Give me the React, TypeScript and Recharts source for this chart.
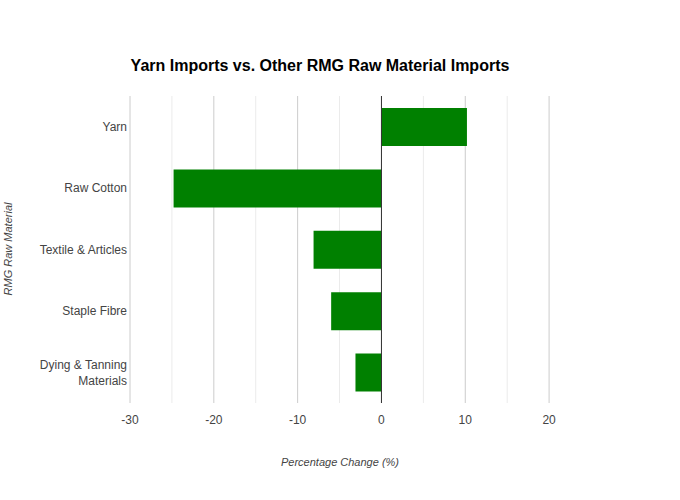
import React from "react";
import { BarChart, Bar, XAxis, YAxis, CartesianGrid, ReferenceLine } from "recharts";

const categories = ["Yarn", "Raw Cotton", "Textile & Articles", "Staple Fibre", "Dying & Tanning Materials"];
const changes = [10.2, -24.8, -8.1, -6.0, -3.1];
const majorTicks = [-30, -20, -10, 0, 10, 20];
const minorTicks = [-25, -15, -5, 5, 15];
const xDomain = [-30, 25];

const data = categories.map((c, i) => ({ name: c, value: changes[i] }));

const FONT = "'Liberation Sans', Arial, sans-serif";

const YTick = (props: any) => {
  const { x, y, payload } = props;
  const v: string = payload.value;
  const lines = v === "Dying & Tanning Materials" ? ["Dying & Tanning", "Materials"] : [v];
  const lh = 16;
  const start = y - ((lines.length - 1) * lh) / 2;
  return (
    <text x={x} y={start} textAnchor="end" fill="#444" fontSize={12} fontFamily={FONT}>
      {lines.map((l, i) => (
        <tspan key={i} x={x} y={start + i * lh} dy="0.35em">
          {l}
        </tspan>
      ))}
    </text>
  );
};

const gen = (vals: number[]) => (p: any) => {
  const s = p?.xAxis?.scale;
  return vals.map((t) => {
    if (typeof s === "function") return s(t);
    if (s && typeof s.map === "function") return s.map(t);
    const off = p.offset;
    return off.left + ((t - xDomain[0]) / (xDomain[1] - xDomain[0])) * off.width;
  });
};

export default function App() {
  return (
    <div style={{ position: "absolute", left: 0, top: 0, width: 680, height: 500, background: "#fff", fontFamily: FONT }}>
      <div
        style={{
          position: "absolute",
          top: 57,
          left: 0,
          width: 640,
          textAlign: "center",
          fontSize: 16,
          fontWeight: "bold",
          color: "#000",
        }}
      >
        Yarn Imports vs. Other RMG Raw Material Imports
      </div>
      <div
        style={{
          position: "absolute",
          top: 456,
          left: 130,
          width: 420,
          textAlign: "center",
          fontSize: 11,
          fontStyle: "italic",
          color: "#444",
        }}
      >
        Percentage Change (%)
      </div>
      <div
        style={{
          position: "absolute",
          left: 8 - 100,
          top: 250 - 7,
          width: 200,
          textAlign: "center",
          fontSize: 11,
          fontStyle: "italic",
          color: "#444",
          transform: "rotate(-90deg)",
        }}
      >
        RMG Raw Material
      </div>
      <div style={{ position: "absolute", left: 0, top: 0 }}>
        <BarChart
          width={680}
          height={500}
          data={data}
          layout="vertical"
          margin={{ top: 96, right: 89, bottom: 67, left: 0 }}
          barSize={38}
        >
          <CartesianGrid horizontal={false} stroke="#ebebeb" verticalCoordinatesGenerator={gen(minorTicks)} />
          <CartesianGrid horizontal={false} stroke="#cccccc" verticalCoordinatesGenerator={gen(majorTicks)} />
          <XAxis
            type="number"
            domain={xDomain}
            ticks={majorTicks}
            allowDataOverflow
            axisLine={false}
            tickLine={false}
            tick={{ fill: "#444", fontSize: 12, fontFamily: FONT }}
            tickMargin={6}
            height={30}
          />
          <YAxis
            type="category"
            dataKey="name"
            width={130}
            axisLine={false}
            tickLine={false}
            tickSize={3}
            tickMargin={0}
            tick={<YTick />}
          />
          <Bar dataKey="value" fill="#008000" isAnimationActive={false} />
          <ReferenceLine x={0} stroke="#333" strokeWidth={1} />
        </BarChart>
      </div>
    </div>
  );
}
